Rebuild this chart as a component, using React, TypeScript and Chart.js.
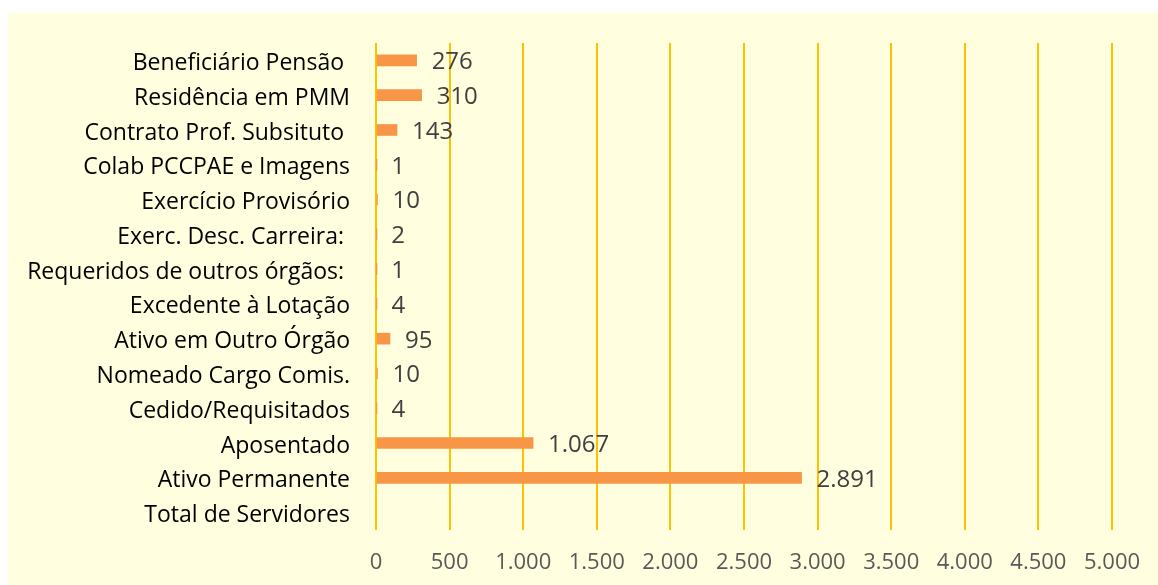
import React, { useEffect, useRef } from "react";
import { Chart, registerables } from "chart.js";

Chart.register(...registerables);

const categories: string[] = [
  "Beneficiário Pensão ",
  "Residência em PMM",
  "Contrato Prof. Subsituto ",
  "Colab PCCPAE e Imagens",
  "Exercício Provisório",
  "Exerc. Desc. Carreira: ",
  "Requeridos de outros órgãos: ",
  "Excedente à Lotação",
  "Ativo em Outro Órgão",
  "Nomeado Cargo Comis.",
  "Cedido/Requisitados",
  "Aposentado",
  "Ativo Permanente",
  "Total de Servidores",
];

const values: (number | null)[] = [276, 310, 143, 1, 10, 2, 1, 4, 95, 10, 4, 1067, 2891, null];

const xMin = 0;
const xMax = 5000;
const xStep = 500;

const FONT = "'Open Sans', 'Noto Sans', sans-serif";

function fmt(v: number): string {
  const s = Math.round(v).toString();
  return s.replace(/\B(?=(\d{3})+(?!\d))/g, ".");
}

const bgPlugin = {
  id: "bgPlugin",
  beforeDraw(chart: any) {
    const { ctx, width, height } = chart;
    ctx.save();
    ctx.fillStyle = "#FFFFDF";
    ctx.fillRect(0, 0, width, height);
    ctx.restore();
  },
};

const valueLabels = {
  id: "valueLabels",
  afterDatasetsDraw(chart: any) {
    const { ctx } = chart;
    const meta = chart.getDatasetMeta(0);
    const data = chart.data.datasets[0].data;
    ctx.save();
    ctx.fillStyle = "#404040";
    ctx.font = `24px ${FONT}`;
    ctx.textAlign = "left";
    ctx.textBaseline = "middle";
    meta.data.forEach((el: any, i: number) => {
      const v = data[i];
      if (v === null || v === undefined) return;
      ctx.fillText(fmt(v), el.x + 15, el.y + 2);
    });
    ctx.restore();
  },
};

export default function App() {
  const ref = useRef<HTMLCanvasElement>(null);
  useEffect(() => {
    if (!ref.current) return;
    const chart = new Chart(ref.current, {
      type: "bar",
      data: {
        labels: categories,
        datasets: [
          {
            data: values,
            backgroundColor: "#F79646",
            barThickness: 11,
            borderWidth: 0,
          },
        ],
      },
      options: {
        indexAxis: "y",
        animation: false,
        responsive: true,
        maintainAspectRatio: false,
        layout: { padding: { left: 0, top: 30, right: 46, bottom: 0 } },
        plugins: {
          legend: { display: false },
          tooltip: { enabled: false },
        },
        scales: {
          x: {
            min: xMin,
            max: xMax,
            afterFit(scale: any) {
              scale.height = 55;
              scale.paddingLeft = 0;
              scale.paddingRight = 0;
            },
            ticks: {
              stepSize: xStep,
              color: "#595959",
              font: { family: FONT, size: 22 },
              padding: 20,
              callback: (v: any) => fmt(Number(v)),
            },
            grid: {
              color: "#FFC000",
              lineWidth: 2,
              drawTicks: false,
            },
            border: { display: false },
          },
          y: {
            afterFit(scale: any) {
              scale.width = 368;
              scale.paddingTop = 0;
              scale.paddingBottom = 0;
            },
            ticks: {
              color: "#000000",
              font: { family: FONT, size: 23 },
              padding: 26,
              labelOffset: 3,
            },
            grid: { display: false, drawTicks: false },
            border: { display: false },
          },
        },
      },
      plugins: [bgPlugin, valueLabels],
    });
    return () => chart.destroy();
  }, []);
  return (
    <div style={{ position: "absolute", left: 8, top: 13, width: 1150, height: 572 }}>
      <canvas ref={ref} />
    </div>
  );
}
